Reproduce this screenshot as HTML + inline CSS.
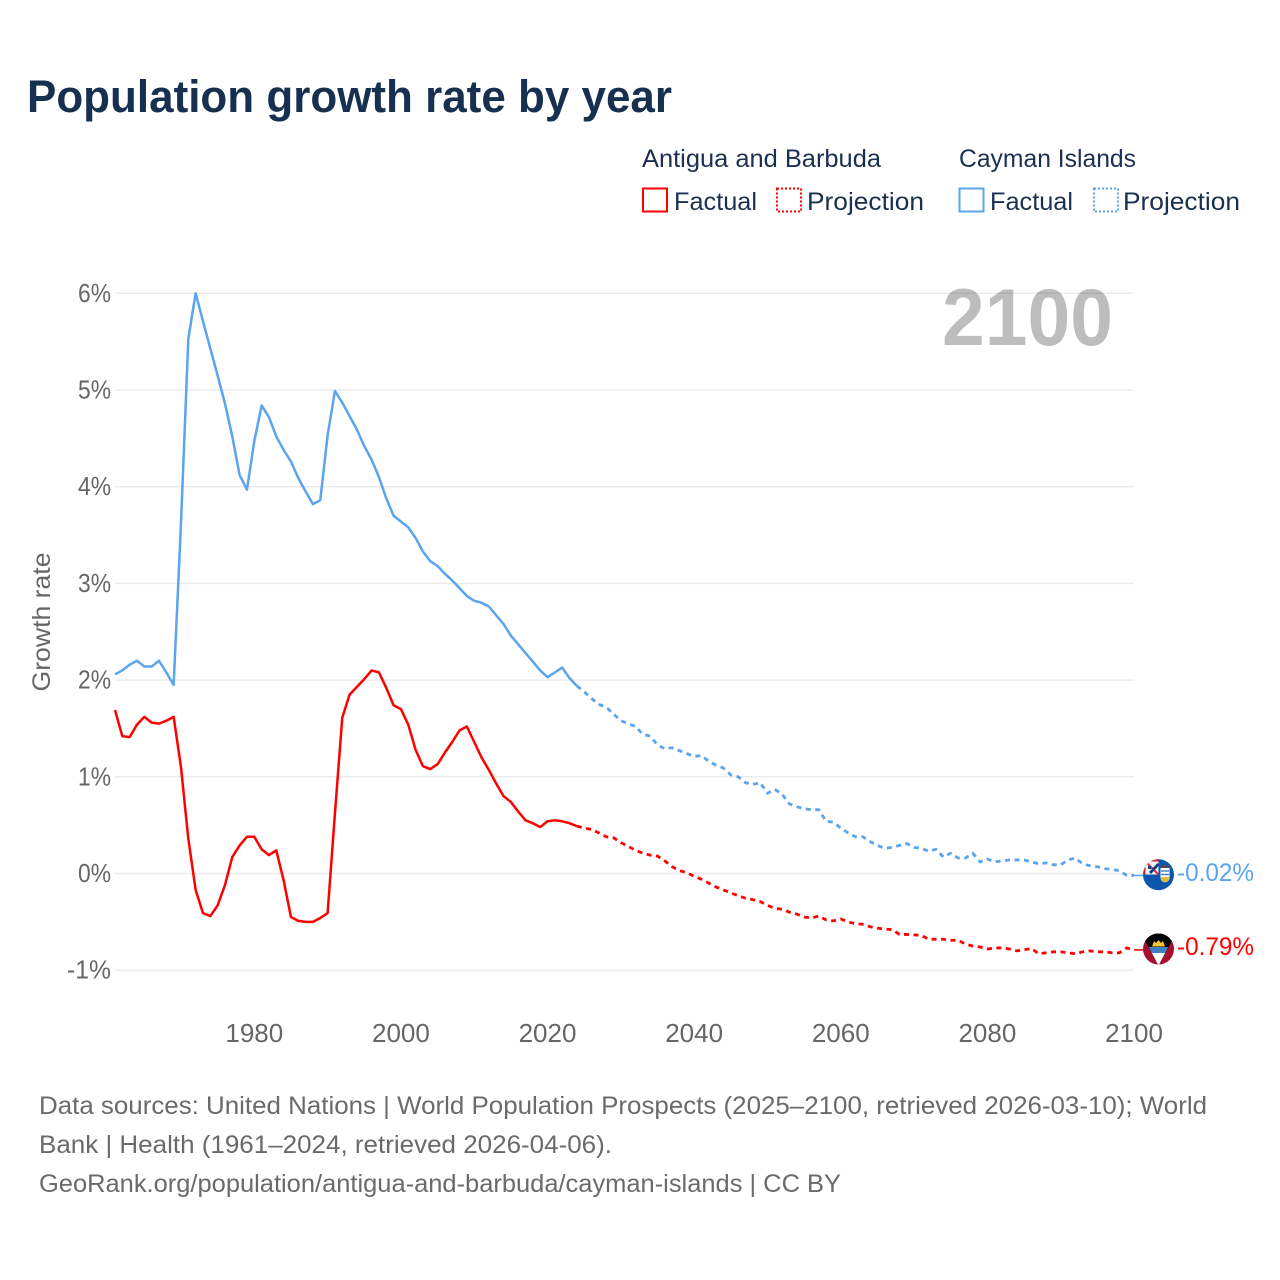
<!DOCTYPE html>
<html lang="en">
<head>
<meta charset="utf-8">
<title>Population growth rate by year</title>
<style>
  html, body { margin: 0; padding: 0; background: #fff; }
  svg { display: block; font-family: "Liberation Sans", sans-serif; }
</style>
</head>
<body>
<svg id="chart" xmlns="http://www.w3.org/2000/svg" width="1280" height="1280" viewBox="0 0 1280 1280">
  <rect x="0" y="0" width="1280" height="1280" fill="#ffffff"/>
  <text x="27" y="112" font-size="45" font-weight="700" fill="#18304f" textLength="645" lengthAdjust="spacingAndGlyphs">Population growth rate by year</text>

  <g font-size="25" fill="#1a3050">
    <text x="642" y="167" textLength="239" lengthAdjust="spacingAndGlyphs">Antigua and Barbuda</text>
    <text x="959" y="167" textLength="177" lengthAdjust="spacingAndGlyphs">Cayman Islands</text>
    <rect x="643" y="188.5" width="24" height="23" fill="none" stroke="#ff0000" stroke-width="2"/>
    <text x="674" y="210" textLength="83" lengthAdjust="spacingAndGlyphs">Factual</text>
    <rect x="777" y="188.5" width="24" height="23" fill="none" stroke="#ff0000" stroke-width="2" stroke-dasharray="2 2"/>
    <text x="807" y="210" textLength="117" lengthAdjust="spacingAndGlyphs">Projection</text>
    <rect x="959.5" y="188.5" width="24" height="23" fill="none" stroke="#5ba4ee" stroke-width="2"/>
    <text x="990" y="210" textLength="83" lengthAdjust="spacingAndGlyphs">Factual</text>
    <rect x="1094" y="188.5" width="24" height="23" fill="none" stroke="#5ba4ee" stroke-width="2" stroke-dasharray="2 2"/>
    <text x="1123" y="210" textLength="117" lengthAdjust="spacingAndGlyphs">Projection</text>
  </g>

  <g id="grid"></g>
  <g id="yticks" font-size="26" fill="#666666" text-anchor="end"></g>
  <g id="xticks" font-size="26" fill="#666666" text-anchor="middle"></g>
  <text transform="translate(50 622) rotate(-90)" font-size="25" fill="#666666" text-anchor="middle" textLength="139" lengthAdjust="spacingAndGlyphs">Growth rate</text>
  <text x="942" y="345" font-size="81" font-weight="700" fill="#000000" fill-opacity="0.26" textLength="171" lengthAdjust="spacingAndGlyphs">2100</text>

  <g id="series"></g>

  <defs>
    <clipPath id="clip-cayman"><circle cx="1158.5" cy="874.7" r="15.5"/></clipPath>
    <clipPath id="clip-antigua"><circle cx="1158.5" cy="949" r="15.5"/></clipPath>
  </defs>

  <g clip-path="url(#clip-cayman)">
    <rect x="1143" y="859" width="32" height="32" fill="#0b57ae"/>
    <rect x="1143" y="859" width="15.5" height="15.5" fill="#f4f4f4"/>
    <path d="M1143 859 H1158.5 M1143 859 V874.5" stroke="#d8203a" stroke-width="5"/>
    <path d="M1146 862 L1158.5 874.5" stroke="#d8344a" stroke-width="2"/>
    <path d="M1158.5 864 L1150 873" stroke="#16407f" stroke-width="3"/>
    <rect x="1148" y="866" width="3" height="3" fill="#16407f"/>
    <rect x="1161" y="865" width="8" height="3" fill="#4a4f55"/>
    <path d="M1160.5 868 H1169.5 V877 Q1169.5 882 1165 882 Q1160.5 882 1160.5 877 Z" fill="#ffffff"/>
    <path d="M1161 871 H1169 M1161 874.5 H1169" stroke="#3b8ac9" stroke-width="1.4"/>
    <path d="M1161 877 H1169 Q1169 882 1165 882.5 Q1161 882 1161 877 Z" fill="#e3b934"/>
  </g>

  <g clip-path="url(#clip-antigua)">
    <rect x="1143" y="933" width="32" height="32" fill="#a7102b"/>
    <path d="M1143 932 H1174 V937 L1158.5 965.5 L1143 937 Z" fill="#000000"/>
    <path d="M1148.7 947 H1168.3 L1165.2 953 H1151.8 Z" fill="#3f7fc6"/>
    <path d="M1151.8 953 H1165.2 L1158.5 965.5 Z" fill="#ffffff"/>
    <path d="M1152 946.5 L1154 941 L1156 943 L1158.5 940 L1161 943 L1163 941 L1165 946.5 Z" fill="#f6c433"/>
  </g>

  <g id="endlabels" font-size="25"></g>

  <g font-size="25" fill="#6a6a6a">
    <text x="39" y="1114" textLength="1168" lengthAdjust="spacingAndGlyphs">Data sources: United Nations | World Population Prospects (2025–2100, retrieved 2026-03-10); World</text>
    <text x="39" y="1153" textLength="573" lengthAdjust="spacingAndGlyphs">Bank | Health (1961–2024, retrieved 2026-04-06).</text>
    <text x="39" y="1192" textLength="802" lengthAdjust="spacingAndGlyphs">GeoRank.org/population/antigua-and-barbuda/cayman-islands | CC BY</text>
  </g>
</svg>

<script>
// Chart data (percent growth per year)
const firstYear = 1961;
const lastYear = 2100;
const projectionStartYear = 2024;
const yTickValues = [-1, 0, 1, 2, 3, 4, 5, 6];
const yTickLabels = ['-1%', '0%', '1%', '2%', '3%', '4%', '5%', '6%'];
const xTickYears = [1980, 2000, 2020, 2040, 2060, 2080, 2100];
const xTickLabels = ['1980', '2000', '2020', '2040', '2060', '2080', '2100'];

// 1961–2024
const antiguaFactual = [
  1.69, 1.42, 1.41, 1.54, 1.62, 1.56, 1.55, 1.58, 1.62, 1.10,
  0.36, -0.17, -0.41, -0.44, -0.33, -0.12, 0.17, 0.29, 0.38, 0.38,
  0.25, 0.19, 0.24, -0.07, -0.45, -0.49, -0.50, -0.50, -0.46, -0.41,
  0.62, 1.61, 1.85, 1.93, 2.01, 2.10, 2.08, 1.92, 1.74, 1.70,
  1.54, 1.28, 1.11, 1.08, 1.13, 1.25, 1.36, 1.48, 1.52, 1.36,
  1.20, 1.07, 0.93, 0.80, 0.74, 0.64, 0.55, 0.52, 0.48, 0.54,
  0.55, 0.54, 0.52, 0.49
];
// 2024–2100
const antiguaProjection = [
  0.49, 0.47, 0.455, 0.42, 0.38, 0.37, 0.32, 0.28, 0.24, 0.21,
  0.19, 0.18, 0.13, 0.07, 0.03, 0.01, -0.03, -0.06, -0.10, -0.14,
  -0.17, -0.20, -0.23, -0.255, -0.27, -0.29, -0.33, -0.36, -0.37, -0.40,
  -0.42, -0.45, -0.46, -0.44, -0.48, -0.49, -0.47, -0.50, -0.52, -0.525,
  -0.55, -0.565, -0.575, -0.58, -0.63, -0.63, -0.635, -0.64, -0.68, -0.68,
  -0.68, -0.69, -0.69, -0.73, -0.75, -0.76, -0.78, -0.77, -0.77, -0.78,
  -0.80, -0.79, -0.775, -0.83, -0.82, -0.81, -0.81, -0.82, -0.83, -0.81,
  -0.80, -0.81, -0.81, -0.82, -0.82, -0.77, -0.79
];
// 1961–2024
const caymanFactual = [
  2.06, 2.10, 2.16, 2.20, 2.14, 2.14, 2.20, 2.08, 1.95, 3.62,
  5.53, 6.00, 5.71, 5.43, 5.15, 4.86, 4.52, 4.12, 3.97, 4.47,
  4.84, 4.72, 4.52, 4.38, 4.26, 4.09, 3.95, 3.82, 3.86, 4.53,
  4.99, 4.87, 4.73, 4.59, 4.42, 4.28, 4.10, 3.88, 3.70, 3.64,
  3.58, 3.47, 3.33, 3.23, 3.18, 3.10, 3.03, 2.95, 2.87, 2.82,
  2.80, 2.76, 2.67, 2.58, 2.46, 2.37, 2.28, 2.19, 2.10, 2.03,
  2.08, 2.13, 2.02, 1.94
];
// 2024–2100
const caymanProjection = [
  1.94, 1.88, 1.81, 1.75, 1.72, 1.65, 1.58, 1.55, 1.52, 1.44,
  1.42, 1.33, 1.29, 1.30, 1.27, 1.24, 1.21, 1.22, 1.16, 1.12,
  1.09, 1.02, 1.00, 0.94, 0.92, 0.94, 0.83, 0.87, 0.82, 0.72,
  0.69, 0.67, 0.66, 0.66, 0.54, 0.53, 0.47, 0.42, 0.38, 0.38,
  0.33, 0.29, 0.26, 0.27, 0.29, 0.31, 0.27, 0.26, 0.23, 0.25,
  0.17, 0.21, 0.16, 0.16, 0.21, 0.12, 0.15, 0.12, 0.13, 0.14,
  0.14, 0.14, 0.12, 0.10, 0.11, 0.09, 0.09, 0.14, 0.16, 0.10,
  0.08, 0.07, 0.05, 0.04, 0.03, -0.02, -0.02
];
const endLabelTexts = ['-0.02%', '-0.79%'];

const NS = 'http://www.w3.org/2000/svg';
const plotLeft = 115, plotRight = 1134;
function xScale(year) {
  return plotLeft + (year - firstYear) * (plotRight - plotLeft) / (lastYear - firstYear);
}
function yScale(value) {
  return 873.5 - value * 96.7;
}
function pathFrom(values, startYear) {
  return values.map(function (v, i) {
    return (i ? 'L' : 'M') + xScale(startYear + i).toFixed(2) + ' ' + yScale(v).toFixed(2);
  }).join(' ');
}

const grid = document.getElementById('grid');
const yticks = document.getElementById('yticks');
const xticks = document.getElementById('xticks');
const series = document.getElementById('series');
const endlabels = document.getElementById('endlabels');

yTickValues.forEach(function (v, i) {
  const line = document.createElementNS(NS, 'line');
  
  
  line.setAttribute('x1', plotLeft);
  line.setAttribute('x2', plotRight);
  line.setAttribute('y1', yScale(v));
  line.setAttribute('y2', yScale(v));
  line.setAttribute('stroke', '#ececec');
  line.setAttribute('stroke-width', '1.5');
  grid.appendChild(line);

  const label = document.createElementNS(NS, 'text');
  
  
  label.setAttribute('x', 111);
  label.setAttribute('y', yScale(v) + 8.5);
  label.setAttribute('textLength', yTickLabels[i].length * 11 + 11);
  label.setAttribute('lengthAdjust', 'spacingAndGlyphs');
  label.textContent = yTickLabels[i];
  yticks.appendChild(label);
});

xTickYears.forEach(function (year, i) {
  const label = document.createElementNS(NS, 'text');
  
  
  label.setAttribute('x', xScale(year));
  label.setAttribute('y', 1042);
  label.textContent = xTickLabels[i];
  xticks.appendChild(label);
});

function addLine(d, color, dashed) {
  const p = document.createElementNS(NS, 'path');
  p.setAttribute('d', d);
  p.setAttribute('fill', 'none');
  p.setAttribute('stroke', color);
  p.setAttribute('stroke-width', '2.5');
  p.setAttribute('stroke-linejoin', 'round');
  if (dashed) {
    p.setAttribute('stroke-dasharray', '5 4.5');
    p.setAttribute('stroke-width', '2.8');
  }
  series.appendChild(p);
  return p;
}

const caymanColor = '#5ba4ee';
const antiguaColor = '#ff0000';

const caymanFactualLine = addLine(pathFrom(caymanFactual, firstYear), caymanColor, false);



const caymanProjectionLine = addLine(pathFrom(caymanProjection, projectionStartYear), caymanColor, true);



const antiguaFactualLine = addLine(pathFrom(antiguaFactual, firstYear), antiguaColor, false);



const antiguaProjectionLine = addLine(pathFrom(antiguaProjection, projectionStartYear), antiguaColor, true);



const caymanLast = caymanProjection[caymanProjection.length - 1];
const antiguaLast = antiguaProjection[antiguaProjection.length - 1];

const caymanLeader = document.createElementNS(NS, 'line');


caymanLeader.setAttribute('x1', plotRight);
caymanLeader.setAttribute('x2', 1144);
caymanLeader.setAttribute('y1', yScale(caymanLast));
caymanLeader.setAttribute('y2', yScale(caymanLast));
caymanLeader.setAttribute('stroke', caymanColor);
caymanLeader.setAttribute('stroke-width', '1.5');
series.appendChild(caymanLeader);

const antiguaLeader = document.createElementNS(NS, 'line');


antiguaLeader.setAttribute('x1', plotRight);
antiguaLeader.setAttribute('x2', 1144);
antiguaLeader.setAttribute('y1', yScale(antiguaLast));
antiguaLeader.setAttribute('y2', yScale(antiguaLast));
antiguaLeader.setAttribute('stroke', antiguaColor);
antiguaLeader.setAttribute('stroke-width', '1.5');
series.appendChild(antiguaLeader);

const caymanEnd = document.createElementNS(NS, 'text');


caymanEnd.setAttribute('x', 1177);
caymanEnd.setAttribute('y', 881);
caymanEnd.setAttribute('fill', caymanColor);
caymanEnd.setAttribute('textLength', '77');
caymanEnd.setAttribute('lengthAdjust', 'spacingAndGlyphs');
caymanEnd.textContent = endLabelTexts[0];
endlabels.appendChild(caymanEnd);

const antiguaEnd = document.createElementNS(NS, 'text');


antiguaEnd.setAttribute('x', 1177);
antiguaEnd.setAttribute('y', 955);
antiguaEnd.setAttribute('fill', antiguaColor);
antiguaEnd.setAttribute('textLength', '77');
antiguaEnd.setAttribute('lengthAdjust', 'spacingAndGlyphs');
antiguaEnd.textContent = endLabelTexts[1];
endlabels.appendChild(antiguaEnd);
</script>
</body>
</html>
